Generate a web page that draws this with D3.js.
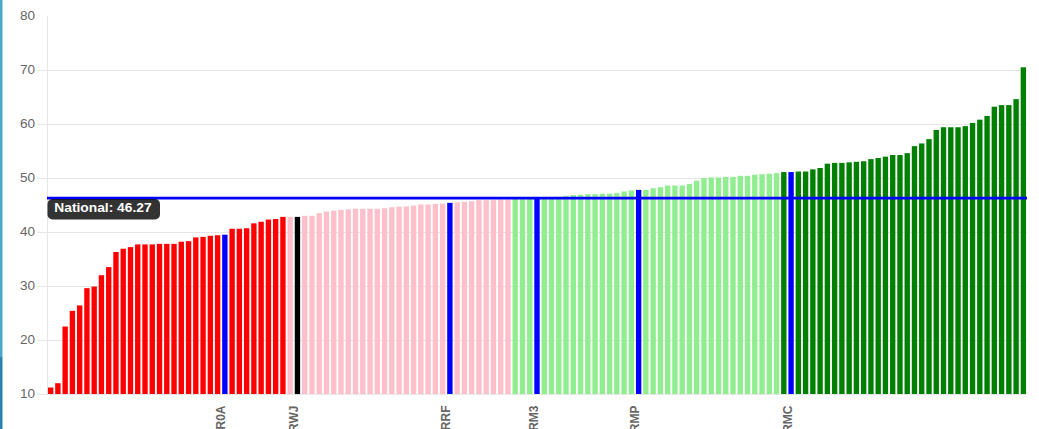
<!DOCTYPE html>
<html>
<head>
<meta charset="utf-8">
<script src="https://cdn.jsdelivr.net/npm/d3@7"></script>
<style>
  html, body { margin: 0; padding: 0; background: #fff; overflow: hidden; }
  svg { display: block; font-family: "Liberation Sans", Arial, Helvetica, sans-serif; }
</style>
</head>
<body>
<svg id="chart" width="1039" height="429"></svg>
<script>
// ---- data ----
const values = [
  11.2, 12.0, 22.5, 25.4, 26.4, 29.6, 29.9, 32.0, 33.5, 36.3,
  36.9, 37.2, 37.7, 37.7, 37.7, 37.8, 37.8, 37.8, 38.2, 38.3,
  39.0, 39.1, 39.3, 39.4, 39.5, 40.6, 40.6, 40.7, 41.6, 41.9,
  42.3, 42.4, 42.8, 42.8, 42.8, 43.0, 43.0, 43.5, 43.8, 43.95,
  44.1, 44.2, 44.3, 44.3, 44.3, 44.3, 44.4, 44.6, 44.7, 44.75,
  44.9, 45.1, 45.1, 45.2, 45.25, 45.4, 45.5, 45.6, 45.7, 45.9,
  45.9, 45.9, 46.0, 46.0, 46.1, 46.1, 46.2, 46.2, 46.3, 46.4,
  46.5, 46.7, 46.85, 46.9, 47.0, 47.0, 47.1, 47.1, 47.2, 47.5,
  47.7, 47.8, 47.8, 48.1, 48.3, 48.6, 48.6, 48.6, 48.9, 49.5,
  50.0, 50.1, 50.1, 50.2, 50.2, 50.4, 50.4, 50.6, 50.7, 50.8,
  50.9, 51.1, 51.1, 51.2, 51.2, 51.6, 51.85, 52.65, 52.8, 52.8,
  52.9, 53.0, 53.1, 53.5, 53.7, 53.95, 54.25, 54.25, 54.6, 55.9,
  56.4, 57.2, 58.9, 59.4, 59.4, 59.4, 59.6, 60.2, 60.8, 61.5,
  63.2, 63.5, 63.5, 64.6, 70.5
];
// highlighted organisations: rank position -> code
const highlightIndex = [24, 34, 55, 67, 81, 102];
const highlightCodes = ["R0A", "RWJ", "RRF", "RM3", "RMP", "RMC"];
const highlightColors = ["#0000ff", "#000000", "#0000ff", "#0000ff", "#0000ff", "#0000ff"];
// colour bands by rank (exclusive end index)
const bandEnds = [33, 64, 101, 135];
const bandColors = ["#ff0000", "#ffc0cb", "#90ee90", "#008000"];
const nationalValue = 46.27;
const nationalLabel = "National: 46.27";
const yTicks = [10, 20, 30, 40, 50, 60, 70, 80];

// categories (codes only shown for highlighted organisations)
const categories = values.map((v, i) => {
  const h = highlightIndex.indexOf(i);
  return h >= 0 ? highlightCodes[h] : "org" + i;
});
const labelFor = c => highlightCodes.includes(c) ? c : "";

// ---- layout ----
const svg = d3.select("#chart");
const plotLeft = 47, plotRight = 1027, plotTop = 16, plotBottom = 394;

const x = d3.scaleBand().domain(categories).range([plotLeft, plotRight])
  .paddingInner(0.26).paddingOuter(0.13);
const y = d3.scaleLinear().domain([10, 80]).range([plotBottom, plotTop]);

function colorFor(i) {
  const h = highlightIndex.indexOf(i);
  if (h >= 0) return highlightColors[h];
  for (let b = 0; b < bandEnds.length; b++) if (i < bandEnds[b]) return bandColors[b];
  return bandColors[bandColors.length - 1];
}

// page edge accent
svg.append("rect").attr("x", 0).attr("y", 0).attr("width", 2.5).attr("height", 357).attr("fill", "#4ba6cb");
svg.append("rect").attr("x", 0).attr("y", 357).attr("width", 2.5).attr("height", 72).attr("fill", "#2a82ae");

// gridlines + y tick labels
yTicks.forEach(t => {
  if (t !== 80) {
    svg.append("line").attr("x1", 37).attr("x2", plotRight)
      .attr("y1", Math.round(y(t)) + 0.5).attr("y2", Math.round(y(t)) + 0.5)
      .attr("stroke", "#e6e6e6").attr("stroke-width", 1);
  }
  svg.append("text")
    .attr("transform", `translate(35,${y(t) + 4.3}) scale(1.13,1)`)
    .attr("text-anchor", "end")
    .attr("font-size", 12)
    .attr("fill", "#666")
    .text(d3.format("d")(t));
});
svg.append("line").attr("x1", plotLeft + 0.5).attr("x2", plotLeft + 0.5).attr("y1", plotTop).attr("y2", plotBottom)
  .attr("stroke", "#e6e6e6");

// bars
svg.append("g").selectAll("rect").data(values).join("rect")
  .attr("x", (d, i) => x(categories[i]))
  .attr("width", x.bandwidth())
  .attr("y", d => y(d))
  .attr("height", d => y(10) - y(d))
  .attr("fill", (d, i) => colorFor(i));

// x labels (rotated)
svg.append("g").selectAll("text").data(categories.filter(c => labelFor(c) !== "")).join("text")
  .attr("transform", c => `translate(${x(c) + x.bandwidth() / 2 + 0.5},405.5) rotate(-90)`)
  .attr("text-anchor", "end")
  .attr("font-size", 12)
  .attr("font-weight", "bold")
  .attr("fill", "#666")
  .text(c => labelFor(c));

// national line
svg.append("line").attr("x1", plotLeft).attr("x2", plotRight)
  .attr("y1", y(nationalValue)).attr("y2", y(nationalValue))
  .attr("stroke", "#0000ff").attr("stroke-width", 2.6);

// national label
svg.append("rect").attr("x", 47.5).attr("y", y(nationalValue) + 0.8)
  .attr("width", 112.5).attr("height", 20.5).attr("rx", 5).attr("ry", 5)
  .attr("fill", "rgba(0,0,0,0.8)");
svg.append("text")
  .attr("transform", `translate(54.3,${y(nationalValue) + 14.3}) scale(1.15,1)`)
  .attr("font-size", 12).attr("font-weight", "bold").attr("fill", "#fff")
  .text(nationalLabel);
</script>
</body>
</html>
